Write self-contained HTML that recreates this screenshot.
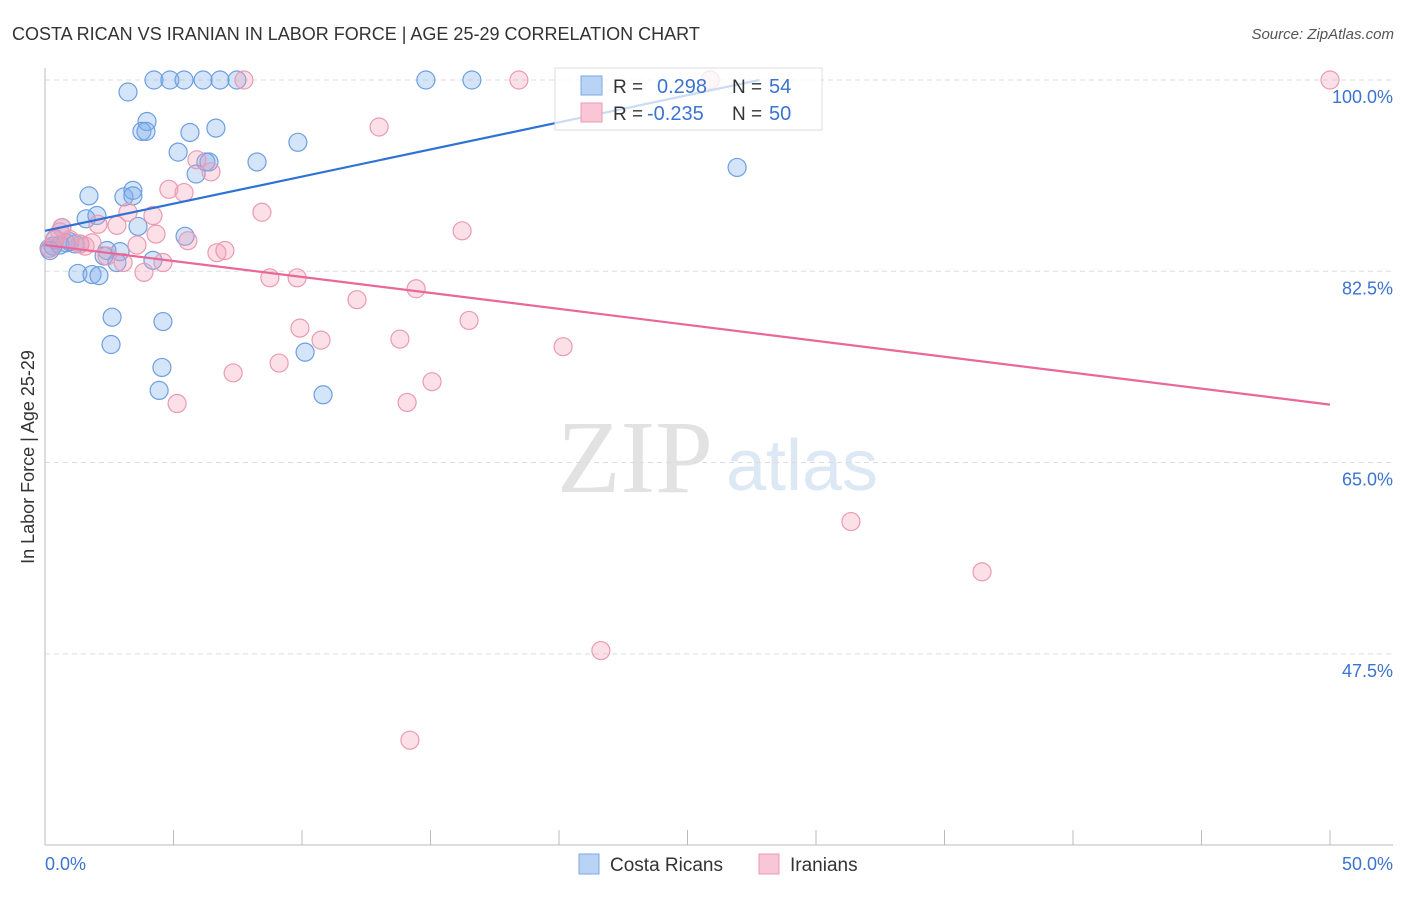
<!DOCTYPE html>
<html><head><meta charset="utf-8"><style>
body{margin:0;background:#fff;font-family:"Liberation Sans",sans-serif}
</style></head><body>
<svg id="chart" width="1406" height="892" xmlns="http://www.w3.org/2000/svg">
<text x="12" y="40" font-size="18" fill="#333">COSTA RICAN VS IRANIAN IN LABOR FORCE | AGE 25-29 CORRELATION CHART</text>
<text x="1394" y="39" font-size="15" fill="#555" font-style="italic" text-anchor="end">Source: ZipAtlas.com</text>
<text x="34" y="457" font-size="18" fill="#333" text-anchor="middle" transform="rotate(-90 34 457)">In Labor Force | Age 25-29</text>
<g><text x="635" y="492" font-size="104" fill="#e2e2e2" font-family="Liberation Serif" text-anchor="middle">ZIP</text><text x="802" y="490" font-size="72" fill="#dde8f5" text-anchor="middle">atlas</text></g>
<g id="grid"></g><g id="axes"></g><g id="pts"></g><g id="trend"></g>
<g>
<rect x="555" y="68" width="267" height="62" fill="#fff" fill-opacity="0.75" stroke="#ddd"/>
<rect x="581" y="76" width="21" height="19" fill="#b9d3f5" stroke="#7aaae8"/>
<rect x="581" y="103" width="21" height="19" fill="#f8c6d5" stroke="#ec9ab4"/>
<text x="613" y="93" font-size="19" fill="#333">R =</text><text x="657" y="93" font-size="20" fill="#3b73d0">0.298</text>
<text x="732" y="93" font-size="19" fill="#333">N =</text><text x="769" y="93" font-size="20" fill="#3b73d0">54</text>
<text x="613" y="120" font-size="19" fill="#333">R =</text><text x="647" y="120" font-size="20" fill="#3b73d0">-0.235</text>
<text x="732" y="120" font-size="19" fill="#333">N =</text><text x="769" y="120" font-size="20" fill="#3b73d0">50</text>
</g>
<g>
<rect x="579" y="854" width="20" height="20" fill="#b9d3f5" stroke="#7aaae8"/><text x="610" y="871" font-size="19" fill="#333">Costa Ricans</text>
<rect x="759" y="854" width="20" height="20" fill="#f8c6d5" stroke="#ec9ab4"/><text x="790" y="871" font-size="19" fill="#333">Iranians</text>
</g>
</svg>
<script>
const blueX=[4.24,4.86,5.41,6.15,6.81,7.47,14.82,16.61,3.23,3.97,3.77,3.93,5.64,6.65,5.18,9.84,6.26,6.38,8.25,5.88,26.93,1.71,3.07,3.42,3.42,1.60,2.02,3.62,5.45,0.66,0.39,0.97,0.16,0.31,1.36,2.41,2.92,2.30,2.80,4.20,1.28,1.83,2.10,2.61,4.59,2.57,10.12,4.55,4.44,10.82,0.82,0.58,1.17,0.19];
const blueY=[100,100,100,100,100,100,100,100,98.9,96.2,95.3,95.3,95.2,95.6,93.4,94.3,92.5,92.5,92.5,91.4,92.0,89.4,89.3,89.9,89.4,87.3,87.6,86.6,85.7,86.5,85.4,85.2,84.6,84.8,85.0,84.4,84.3,83.9,83.3,83.5,82.3,82.2,82.1,78.3,77.9,75.8,75.1,73.7,71.6,71.2,85.1,84.9,85.0,84.4];
const pinkX=[7.74,18.44,25.88,50,13.0,5.91,6.46,4.82,5.41,8.44,4.20,3.23,2.06,2.80,0.66,4.32,5.56,16.23,3.58,6.69,7.0,2.41,3.04,4.59,3.85,8.75,9.81,14.44,12.14,16.5,9.92,10.74,13.81,20.16,7.32,9.11,15.06,14.09,5.14,31.36,36.46,21.63,14.2,0.19,0.58,0.97,1.56,1.83,0.39,1.36];
const pinkY=[100,100,100,100,95.7,92.7,91.6,90.0,89.7,87.9,87.6,87.9,86.8,86.7,86.5,85.9,85.3,86.2,84.9,84.2,84.4,83.9,83.3,83.3,82.4,81.9,81.9,80.9,79.9,78.0,77.3,76.2,76.3,75.6,73.2,74.1,72.4,70.5,70.4,59.6,55.0,47.8,39.6,84.6,86.1,85.4,84.8,85.1,85.5,85.0];
const blueTrendX=[0,27.8];const blueTrendY=[86.2,100];
const pinkTrendX=[0,50];const pinkTrendY=[84.9,70.3];
const yTicks=[100,82.5,65,47.5];const yTickLabels=["100.0%","82.5%","65.0%","47.5%"];
const xTickCount=10;
const X=v=>45+v*25.7, Y=v=>80+(100-v)*10.93;
const NS="http://www.w3.org/2000/svg";
function mk(p,t,a){const e=document.createElementNS(NS,t);for(const k in a)e.setAttribute(k,a[k]);p.appendChild(e);return e;}
const grid=document.getElementById('grid'),axes=document.getElementById('axes'),pts=document.getElementById('pts'),tr=document.getElementById('trend');
yTicks.forEach((v,i)=>{
 const l=mk(grid,'line',{x1:45,x2:1393,y1:Y(v),y2:Y(v),stroke:'#ddd','stroke-dasharray':'5,4'});
 
 
 const t=mk(axes,'text',{x:1393,y:Y(v)+23,'font-size':18,fill:'#3b73d0','text-anchor':'end'});t.textContent=yTickLabels[i];
 
 
});
mk(axes,'line',{x1:45,x2:45,y1:68,y2:845,stroke:'#bbb'});
mk(axes,'line',{x1:45,x2:1393,y1:845,y2:845,stroke:'#bbb'});
for(let i=0;i<=xTickCount;i++){const x=X(i*5);const l=mk(axes,'line',{x1:x,x2:x,y1:830,y2:845,stroke:'#bbb'});
 
 }
let t=mk(axes,'text',{x:45,y:870,'font-size':18,fill:'#3b73d0'});t.textContent='0.0%';


t=mk(axes,'text',{x:1393,y:870,'font-size':18,fill:'#3b73d0','text-anchor':'end'});t.textContent='50.0%';


blueX.forEach((v,i)=>{const c=mk(pts,'circle',{cx:X(v),cy:Y(blueY[i]),r:9,fill:'rgba(120,170,235,0.32)',stroke:'#6e9fe0','stroke-width':1.2});
 
 });
pinkX.forEach((v,i)=>{const c=mk(pts,'circle',{cx:X(v),cy:Y(pinkY[i]),r:9,fill:'rgba(245,160,185,0.32)',stroke:'#eb9ab3','stroke-width':1.2});
 
 });
let l=mk(tr,'line',{x1:X(blueTrendX[0]),y1:Y(blueTrendY[0]),x2:X(blueTrendX[1]),y2:Y(blueTrendY[1]),stroke:'#2f72d6','stroke-width':2.2});


l=mk(tr,'line',{x1:X(pinkTrendX[0]),y1:Y(pinkTrendY[0]),x2:X(pinkTrendX[1]),y2:Y(pinkTrendY[1]),stroke:'#e8689a','stroke-width':2.2});


</script>
</body></html>
